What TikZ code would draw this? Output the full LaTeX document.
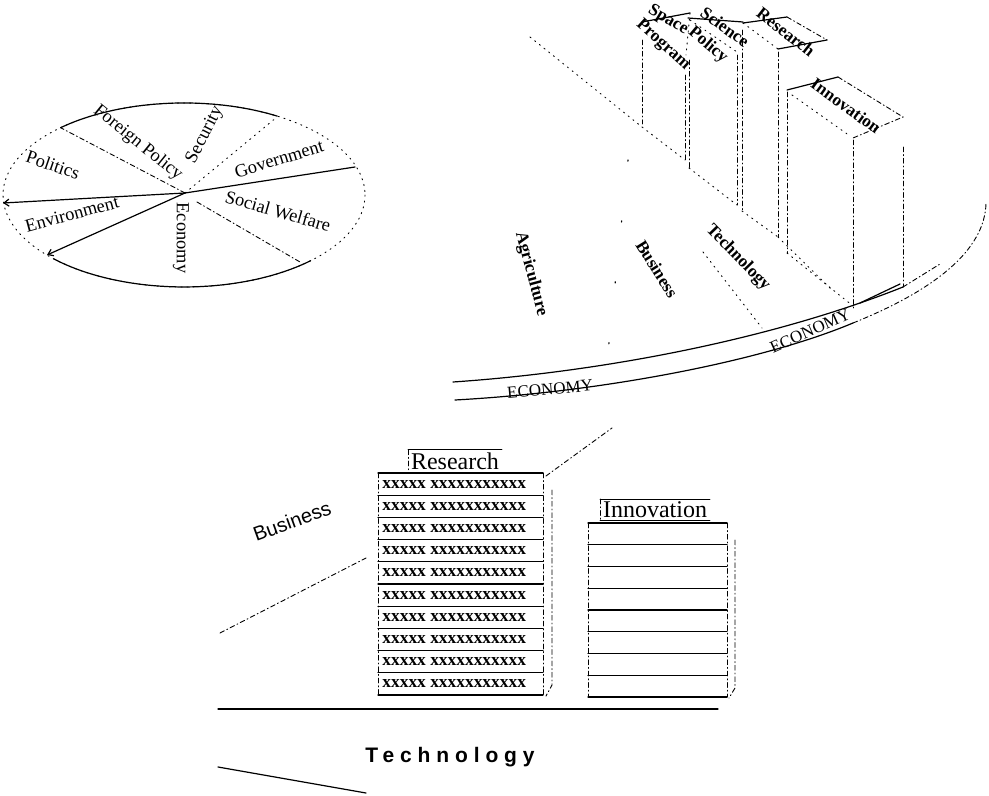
\documentclass[tikz,border=0pt]{standalone}
\usepackage{fontspec}
\setmainfont{Liberation Serif}
\setsansfont{Liberation Sans}
\newfontfamily\widesans[LetterSpace=28]{Liberation Sans}
\usetikzlibrary{arrows.meta,calc}

\begin{document}
\begin{tikzpicture}[x=0.5pt, y=-0.5pt, line cap=round,
  edge/.style={line width=0.6pt},
  hidden/.style={line width=0.45pt, dash pattern=on 2.4pt off 1.4pt on 0.5pt off 1.4pt},
  faint/.style={line width=0.45pt, dash pattern=on 0.6pt off 2.4pt},
  sparse/.style={line width=0.6pt, dash pattern=on 0.6pt off 30pt},
  tip/.style={-{Straight Barb[length=2.5pt, width=3.5pt]}},
  plabel/.style={inner sep=0pt, font=\fontsize{9.2}{10}\selectfont},
  tlabel/.style={inner sep=0pt, font=\fontsize{8.7}{10}\selectfont\bfseries},
  eco/.style={inner sep=0pt, font=\fontsize{8.5}{10}\selectfont},
  tabtitle/.style={inner sep=1.2pt, font=\fontsize{12}{14}\selectfont},
  rowtxt/.style={inner sep=0pt, anchor=west, font=\fontsize{8.7}{10}\selectfont\bfseries}]
\fill[white] (0,0) rectangle (989,796);

% issue wheel
\coordinate (pc) at (185,193);
\draw[faint] (184,195) ellipse [x radius=181, y radius=92];
\draw[edge] (60.6,127.7) arc[start angle=-133, end angle=-59, x radius=181, y radius=92];
\draw[edge] (310.6,260.7) arc[start angle=45.6, end angle=136, x radius=181, y radius=92];
\coordinate (w1) at (60.6,127.7); \coordinate (w2) at (277,117);
\coordinate (w3) at (355,167);    \coordinate (w4) at (3,203);
\coordinate (w5) at (47,255);     \coordinate (w6) at (300,262);
\draw[hidden] (pc) -- (w1);
\draw[faint] (pc) -- (w2);
\draw[edge] (pc) -- (w3);
\draw[edge, tip] (pc) -- (w4);
\draw[edge, tip] (pc) -- (w5);
\draw[hidden] ($(pc)+(12,9)$) -- (w6);
\node[plabel, rotate=-19] (pol) at (53,165) {Politics};
\node[plabel, rotate=-39] (fp) at (138,143) {Foreign Policy};
\node[plabel, rotate=63] (sec) at (205,135) {Security};
\node[plabel, rotate=17] (gov) at (279,159) {Government};
\node[plabel, rotate=-16] (sw) at (278,211) {Social Welfare};
\node[plabel, rotate=-90] (eco) at (181,238) {Economy};
\node[plabel, rotate=15] (env) at (72,214) {Environment};

% economy platform
\draw[edge] (453,382) .. controls (600,372) and (770,340) .. (903,287);
\draw[edge] (860,303) -- (900,284);
\draw[edge] (455,400) .. controls (600,392) and (760,362) .. (853,323);
\draw[hidden] (903,287) -- (940,264);
\draw[hidden] (853,323) .. controls (935,290) and (985,250) .. (986,203);
\node[eco, rotate=5] (econ1) at (550,389) {ECONOMY};
\node[eco, rotate=24] (econ2) at (810,331) {ECONOMY};
\draw[faint] (530,37) -- (642,127);
\draw[sparse] (628,160) -- (608,352);
\draw[faint] (703,252) -- (762,328);
\draw[faint] (778,237) -- (832,290);

% space program
\draw[edge] (642,22) -- (690,13);
\draw[faint] (690,13) -- (686,55);
\draw[hidden] (642,40) -- (642,124);
\draw[hidden] (685,75) -- (685,160);
\draw[faint] (642,127) -- (685,160);
% science policy
\draw[edge] (688,18) -- (743,22);
\draw[faint] (690,20) -- (737,52);
\draw[hidden] (689,60) -- (689,168);
\draw[hidden] (737,55) -- (737,205);
\draw[faint] (689,168) -- (737,205);
% research
\draw[edge] (743,23) -- (787,17);
\draw[hidden] (787,17) -- (827,40);
\draw[edge] (827,40) -- (778,49);
\draw[faint] (743,23) -- (778,49);
\draw[hidden] (742,30) -- (742,211);
\draw[hidden] (778,52) -- (778,237);
\draw[faint] (742,211) -- (778,237);
% innovation
\draw[edge] (787,90) -- (838,77);
\draw[hidden] (838,77) -- (903,117) -- (853,138);
\draw[faint] (792,95) -- (850,136);
\draw[hidden] (787,92) -- (787,253);
\draw[hidden] (853,140) -- (853,308);
\draw[hidden] (903,147) -- (903,287);
\draw[faint] (787,253) -- (853,306);

\node[tlabel, rotate=-31] (sp1) at (668,20) {Space};
\node[tlabel, rotate=-42] (sp2) at (663,45) {Program};
\node[tlabel, rotate=-36] (sc1) at (725,27) {Science};
\node[tlabel, rotate=-40] (sc2) at (708,45) {Policy};
\node[tlabel, rotate=-38] (res) at (786,32) {Research};
\node[tlabel, rotate=-36] (inn) at (846,106) {Innovation};
\node[tlabel, rotate=-75] (agr) at (531,274) {Agriculture};
\node[tlabel, rotate=-58] (bus) at (657,269) {Business};
\node[tlabel, rotate=-46] (tec) at (738,258) {Technology};

% research stack
\node[tabtitle] (rt) at (455,461) {Research};
\draw[edge] (rt.north west) -- (rt.north east);
\draw[edge] (rt.south west) -- (rt.south east);
\draw[hidden] (rt.north west) -- (rt.south west);
\draw[edge] (378,473) -- (543,473);
\draw[edge] (378,695) -- (543,695);
\draw[hidden] (378,473) -- (378,695);
\draw[hidden] (543,473) -- (543,695);
\foreach \i in {1,...,9}
  \draw[edge] (378,{473+22.2*\i}) -- (543,{473+22.2*\i});
\foreach \i in {1,...,10}
  \node[rowtxt] (r\i) at (382,{473+22.2*(\i-0.5)}) {xxxxx xxxxxxxxxxx};
\draw[hidden] (552,490) -- (552,685) -- (546,696);
\draw[hidden] (546,476) -- (612,428);

% innovation stack
\node[tabtitle] (it) at (655,510) {Innovation};
\draw[edge] (it.north west) -- (it.north east);
\draw[edge] (it.south west) -- (it.south east);
\draw[hidden] (it.north west) -- (it.south west);
\draw[edge] (588,523) -- (727,523);
\draw[edge] (588,697) -- (727,697);
\draw[hidden] (588,523) -- (588,697);
\draw[hidden] (727,523) -- (727,697);
\foreach \i in {1,...,7}
  \draw[edge] (588,{523+21.75*\i}) -- (727,{523+21.75*\i});
\draw[hidden] (735,540) -- (735,688) -- (729,698);

% technology floor
\draw[hidden] (220,633) -- (366,558);
\node[inner sep=0pt, rotate=20, font=\sffamily\fontsize{10}{12}\selectfont] (bb) at (292,521) {Business};
\draw[edge] (218,709) -- (718,709);
\node[inner sep=0pt, font=\widesans\bfseries\fontsize{10.5}{12}\selectfont] (tt) at (450,757) {Technology};
\draw[edge] (218,767) -- (366,793);
\end{tikzpicture}
\end{document}
